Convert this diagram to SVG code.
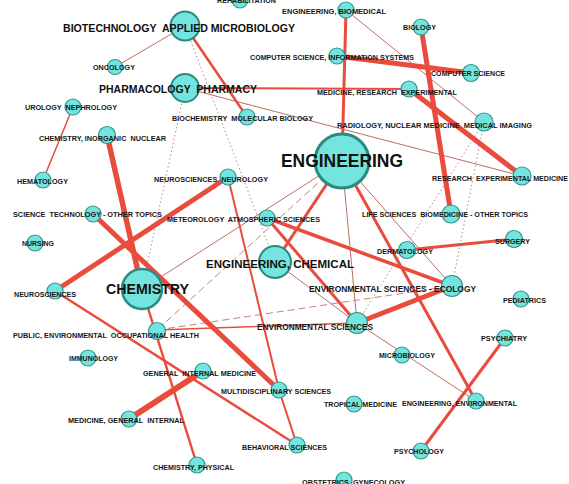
<svg xmlns="http://www.w3.org/2000/svg" width="569" height="484" viewBox="0 0 569 484">
  <style>
    .bg { fill: #ffffff; }
    .e { stroke: #e94c3c; fill: none; stroke-linecap: round; }
    .t { stroke: #bf6e62; stroke-width: 1; fill: none; }
    .d { stroke: #b88a86; stroke-width: 1; fill: none; stroke-dasharray: 1.5 2.5; }
    .dash { stroke: #bf847c; stroke-width: 1; fill: none; stroke-dasharray: 7 4; }
    .n { fill: #74e4de; stroke: #31968d; stroke-width: 1.2; }
    .nb { fill: #74e4de; stroke: #2a8a82; }
    text { white-space: pre; }
    .l { font-family: "Liberation Sans", Arial, sans-serif; font-weight: bold; font-size: 7.2px; fill: #161616; }
    .lm { font-family: "Liberation Sans", Arial, sans-serif; font-weight: bold; font-size: 8.3px; fill: #161616; }
    .lb { font-family: "Liberation Sans", Arial, sans-serif; font-weight: bold; fill: #111111; }
  </style>
  <rect class="bg" x="0" y="0" width="569" height="484"/>

  <!-- connectors -->
  <g id="edges">
    <!-- thin and dotted links -->
    <line class="t" x1="185" y1="26" x2="115" y2="67"/>
    <line class="t" x1="346" y1="10" x2="484" y2="122"/>
    <line class="t" x1="185" y1="88" x2="522" y2="176"/>
    <line class="t" x1="342" y1="161" x2="142" y2="289"/>
    <line class="t" x1="342" y1="161" x2="357" y2="323"/>
    <line class="t" x1="342" y1="161" x2="452" y2="286"/>
    <line class="t" x1="275" y1="262" x2="357" y2="323"/>
    <line class="t" x1="357" y1="323" x2="476" y2="401"/>
    <line class="d" x1="185" y1="26" x2="275" y2="262"/>
    <line class="d" x1="185" y1="88" x2="142" y2="289"/>
    <line class="d" x1="484" y1="122" x2="357" y2="323"/>
    <line class="d" x1="484" y1="122" x2="452" y2="286"/>
    <line class="dash" x1="342" y1="161" x2="157" y2="330"/>
    <line class="dash" x1="157" y1="330" x2="452" y2="286"/>

    <!-- weighted links -->
    <line class="e" stroke-width="5.5" x1="107" y1="135" x2="142" y2="289"/>
    <line class="e" stroke-width="5" x1="55" y1="291" x2="228" y2="177"/>
    <line class="e" stroke-width="5" x1="93" y1="214" x2="279" y2="390"/>
    <line class="e" stroke-width="5" x1="421" y1="27" x2="451" y2="214"/>
    <line class="e" stroke-width="5" x1="337" y1="56" x2="471" y2="73"/>
    <line class="e" stroke-width="5" x1="409" y1="89" x2="522" y2="176"/>
    <line class="e" stroke-width="5" x1="357" y1="323" x2="452" y2="286"/>
    <line class="e" stroke-width="6" x1="203" y1="371" x2="129" y2="419"/>
    <line class="e" stroke-width="3" x1="346" y1="10" x2="342" y2="161"/>
    <line class="e" stroke-width="2.5" x1="185" y1="26" x2="247" y2="117"/>
    <line class="e" stroke-width="2" x1="185" y1="88" x2="409" y2="89"/>
    <line class="e" stroke-width="1.5" x1="73" y1="107" x2="43" y2="180"/>
    <line class="e" stroke-width="3" x1="342" y1="161" x2="275" y2="262"/>
    <line class="e" stroke-width="3" x1="342" y1="161" x2="476" y2="401"/>
    <line class="e" stroke-width="3" x1="267" y1="218" x2="357" y2="323"/>
    <line class="e" stroke-width="3.5" x1="267" y1="218" x2="452" y2="286"/>
    <line class="e" stroke-width="3" x1="407" y1="250" x2="514" y2="239"/>
    <line class="e" stroke-width="3" x1="505" y1="338" x2="421" y2="451"/>
    <line class="e" stroke-width="2" x1="228" y1="177" x2="279" y2="390"/>
    <line class="e" stroke-width="2" x1="279" y1="390" x2="297" y2="445"/>
    <line class="e" stroke-width="2.5" x1="55" y1="291" x2="297" y2="445"/>
    <line class="e" stroke-width="2.5" x1="142" y1="289" x2="197" y2="465"/>
    <line class="e" stroke-width="1.5" x1="157" y1="330" x2="357" y2="323"/>
  </g>

  <!-- nodes -->
  <g id="n-rehabilitation"><circle class="n" cx="240" cy="0" r="8"/></g>
  <g id="n-eng-biomedical"><circle class="n" cx="346" cy="10" r="8"/></g>
  <g id="n-applied-microbiology"><circle class="nb" stroke-width="2" cx="185" cy="26" r="14.5"/></g>
  <g id="n-oncology"><circle class="n" cx="115" cy="67" r="7.5"/></g>
  <g id="n-pharmacy"><circle class="nb" stroke-width="2" cx="185" cy="88" r="14"/></g>
  <g id="n-nephrology"><circle class="n" cx="73" cy="107" r="8"/></g>
  <g id="n-chem-inorganic"><circle class="n" cx="107" cy="135" r="8.5"/></g>
  <g id="n-molecular-biology"><circle class="n" cx="247" cy="117" r="8"/></g>
  <g id="n-cs-information-systems"><circle class="n" cx="337" cy="56" r="8"/></g>
  <g id="n-biology"><circle class="n" cx="421" cy="27" r="8"/></g>
  <g id="n-computer-science"><circle class="n" cx="471" cy="73" r="8.5"/></g>
  <g id="n-medicine-research"><circle class="n" cx="409" cy="89" r="8"/></g>
  <g id="n-medical-imaging"><circle class="n" cx="484" cy="122" r="9"/></g>
  <g id="n-engineering"><circle class="nb" stroke-width="3" cx="342" cy="161" r="27"/></g>
  <g id="n-experimental-medicine"><circle class="n" cx="522" cy="176" r="9"/></g>
  <g id="n-biomedicine"><circle class="n" cx="451" cy="214" r="9"/></g>
  <g id="n-neurology"><circle class="n" cx="228" cy="177" r="8"/></g>
  <g id="n-atmospheric"><circle class="n" cx="267" cy="218" r="8"/></g>
  <g id="n-science-technology"><circle class="n" cx="93" cy="214" r="8"/></g>
  <g id="n-hematology"><circle class="n" cx="43" cy="180" r="8"/></g>
  <g id="n-nursing"><circle class="n" cx="35" cy="243" r="8"/></g>
  <g id="n-neurosciences"><circle class="n" cx="55" cy="291" r="8"/></g>
  <g id="n-chemistry"><circle class="nb" stroke-width="2.5" cx="142" cy="289" r="20"/></g>
  <g id="n-eng-chemical"><circle class="nb" stroke-width="2" cx="275" cy="262" r="16"/></g>
  <g id="n-dermatology"><circle class="n" cx="407" cy="250" r="8.5"/></g>
  <g id="n-surgery"><circle class="n" cx="514" cy="239" r="8.5"/></g>
  <g id="n-ecology"><circle class="n" stroke-width="1.5" cx="452" cy="286" r="10.5"/></g>
  <g id="n-pediatrics"><circle class="n" cx="521" cy="299" r="8"/></g>
  <g id="n-environmental-sciences"><circle class="n" stroke-width="1.5" cx="357" cy="323" r="10.5"/></g>
  <g id="n-occupational-health"><circle class="n" cx="157" cy="331" r="8.5"/></g>
  <g id="n-immunology"><circle class="n" cx="88" cy="358" r="8"/></g>
  <g id="n-internal-medicine"><circle class="n" cx="203" cy="371" r="8"/></g>
  <g id="n-microbiology"><circle class="n" cx="402" cy="355" r="8"/></g>
  <g id="n-psychiatry"><circle class="n" cx="505" cy="338" r="8"/></g>
  <g id="n-multidisciplinary"><circle class="n" cx="279" cy="390" r="8"/></g>
  <g id="n-medicine-general"><circle class="n" cx="129" cy="419" r="8"/></g>
  <g id="n-tropical-medicine"><circle class="n" cx="354" cy="404" r="8"/></g>
  <g id="n-eng-environmental"><circle class="n" cx="476" cy="401" r="8"/></g>
  <g id="n-behavioral-sciences"><circle class="n" cx="297" cy="445" r="8"/></g>
  <g id="n-chem-physical"><circle class="n" cx="197" cy="465" r="8"/></g>
  <g id="n-psychology"><circle class="n" cx="421" cy="451" r="8"/></g>
  <g id="n-obstetrics"><circle class="n" cx="344" cy="480" r="8"/></g>

  <!-- labels -->
  <g id="labels">
    <text class="l" x="217" y="3" textLength="59" lengthAdjust="spacingAndGlyphs">REHABILITATION</text>
    <text class="l" x="282" y="13.5" textLength="104" lengthAdjust="spacingAndGlyphs">ENGINEERING, BIOMEDICAL</text>
    <text class="lb" font-size="10.5" x="63" y="31.8" textLength="232" lengthAdjust="spacingAndGlyphs">BIOTECHNOLOGY  APPLIED MICROBIOLOGY</text>
    <text class="l" x="93" y="70" textLength="42" lengthAdjust="spacingAndGlyphs">ONCOLOGY</text>
    <text class="lb" font-size="10.5" x="99" y="92.8" textLength="158" lengthAdjust="spacingAndGlyphs">PHARMACOLOGY  PHARMACY</text>
    <text class="l" x="25" y="109.5" textLength="92" lengthAdjust="spacingAndGlyphs">UROLOGY  NEPHROLOGY</text>
    <text class="l" x="39" y="140.5" textLength="127" lengthAdjust="spacingAndGlyphs">CHEMISTRY, INORGANIC  NUCLEAR</text>
    <text class="l" x="172" y="120.5" textLength="141" lengthAdjust="spacingAndGlyphs">BIOCHEMISTRY  MOLECULAR BIOLOGY</text>
    <text class="l" x="250" y="60" textLength="164" lengthAdjust="spacingAndGlyphs">COMPUTER SCIENCE, INFORMATION SYSTEMS</text>
    <text class="l" x="403" y="30" textLength="33" lengthAdjust="spacingAndGlyphs">BIOLOGY</text>
    <text class="l" x="431" y="76" textLength="74" lengthAdjust="spacingAndGlyphs">COMPUTER SCIENCE</text>
    <text class="l" x="317" y="94.5" textLength="140" lengthAdjust="spacingAndGlyphs">MEDICINE, RESEARCH  EXPERIMENTAL</text>
    <text class="l" x="337" y="128" textLength="195" lengthAdjust="spacingAndGlyphs">RADIOLOGY, NUCLEAR MEDICINE  MEDICAL IMAGING</text>
    <text class="lb" font-size="17.5" x="281" y="167.3" textLength="122" lengthAdjust="spacingAndGlyphs">ENGINEERING</text>
    <text class="l" x="432" y="180.5" textLength="136" lengthAdjust="spacingAndGlyphs">RESEARCH  EXPERIMENTAL MEDICINE</text>
    <text class="l" x="362" y="216.5" textLength="166" lengthAdjust="spacingAndGlyphs">LIFE SCIENCES  BIOMEDICINE - OTHER TOPICS</text>
    <text class="l" x="154" y="181.5" textLength="114" lengthAdjust="spacingAndGlyphs">NEUROSCIENCES  NEUROLOGY</text>
    <text class="l" x="167" y="221.5" textLength="153" lengthAdjust="spacingAndGlyphs">METEOROLOGY  ATMOSPHERIC SCIENCES</text>
    <text class="l" x="13" y="216.5" textLength="149" lengthAdjust="spacingAndGlyphs">SCIENCE  TECHNOLOGY - OTHER TOPICS</text>
    <text class="l" x="17" y="183.5" textLength="51" lengthAdjust="spacingAndGlyphs">HEMATOLOGY</text>
    <text class="l" x="22" y="245.5" textLength="32" lengthAdjust="spacingAndGlyphs">NURSING</text>
    <text class="l" x="14" y="296.5" textLength="62" lengthAdjust="spacingAndGlyphs">NEUROSCIENCES</text>
    <text class="lb" font-size="14.3" x="106" y="294.2" textLength="83" lengthAdjust="spacingAndGlyphs">CHEMISTRY</text>
    <text class="lb" font-size="11.6" x="206" y="268.2" textLength="148" lengthAdjust="spacingAndGlyphs">ENGINEERING, CHEMICAL</text>
    <text class="l" x="377" y="253.5" textLength="56" lengthAdjust="spacingAndGlyphs">DERMATOLOGY</text>
    <text class="l" x="495" y="243.5" textLength="35" lengthAdjust="spacingAndGlyphs">SURGERY</text>
    <text class="lm" x="309" y="292" textLength="167" lengthAdjust="spacingAndGlyphs">ENVIRONMENTAL SCIENCES - ECOLOGY</text>
    <text class="l" x="503" y="302.5" textLength="43" lengthAdjust="spacingAndGlyphs">PEDIATRICS</text>
    <text class="lm" x="257" y="330" textLength="116" lengthAdjust="spacingAndGlyphs">ENVIRONMENTAL SCIENCES</text>
    <text class="l" x="13" y="337.5" textLength="186" lengthAdjust="spacingAndGlyphs">PUBLIC, ENVIRONMENTAL  OCCUPATIONAL HEALTH</text>
    <text class="l" x="69" y="360.5" textLength="49" lengthAdjust="spacingAndGlyphs">IMMUNOLOGY</text>
    <text class="l" x="143" y="375.5" textLength="113" lengthAdjust="spacingAndGlyphs">GENERAL  INTERNAL MEDICINE</text>
    <text class="l" x="379" y="357.5" textLength="56" lengthAdjust="spacingAndGlyphs">MICROBIOLOGY</text>
    <text class="l" x="481" y="340.5" textLength="46" lengthAdjust="spacingAndGlyphs">PSYCHIATRY</text>
    <text class="l" x="221" y="393.5" textLength="110" lengthAdjust="spacingAndGlyphs">MULTIDISCIPLINARY SCIENCES</text>
    <text class="l" x="68" y="422.5" textLength="116" lengthAdjust="spacingAndGlyphs">MEDICINE, GENERAL  INTERNAL</text>
    <text class="l" x="324" y="406.5" textLength="73" lengthAdjust="spacingAndGlyphs">TROPICAL MEDICINE</text>
    <text class="l" x="402" y="405.5" textLength="115" lengthAdjust="spacingAndGlyphs">ENGINEERING, ENVIRONMENTAL</text>
    <text class="l" x="242" y="449.5" textLength="85" lengthAdjust="spacingAndGlyphs">BEHAVIORAL SCIENCES</text>
    <text class="l" x="153" y="469.5" textLength="81" lengthAdjust="spacingAndGlyphs">CHEMISTRY, PHYSICAL</text>
    <text class="l" x="394" y="453.5" textLength="50" lengthAdjust="spacingAndGlyphs">PSYCHOLOGY</text>
    <text class="l" x="302" y="484.5" textLength="103" lengthAdjust="spacingAndGlyphs">OBSTETRICS  GYNECOLOGY</text>
  </g>
</svg>
